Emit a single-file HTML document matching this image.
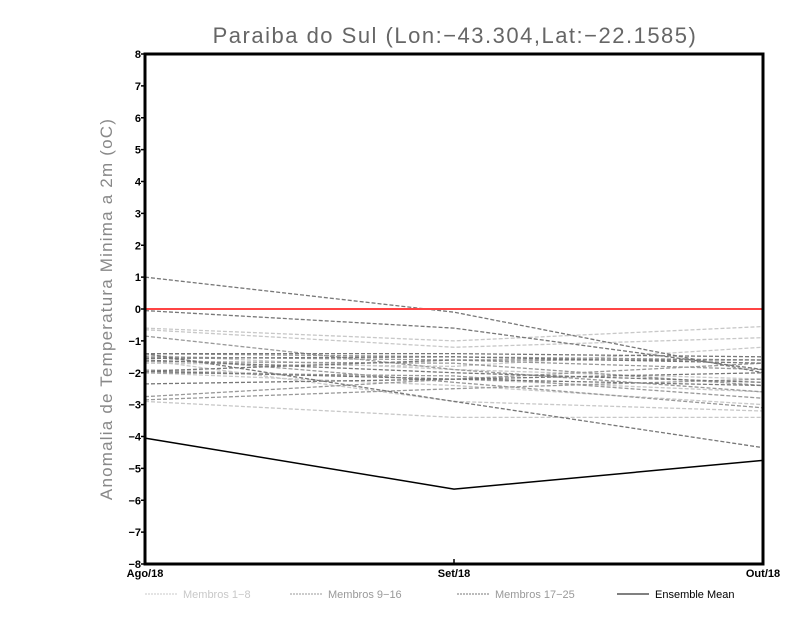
<!DOCTYPE html>
<html><head><meta charset="utf-8"><style>
body{margin:0;background:#fff;width:800px;height:618px;overflow:hidden}
svg text{font-family:"Liberation Sans",sans-serif}
</style></head><body>
<svg id="chart" width="800" height="618" xmlns="http://www.w3.org/2000/svg">
<text x="455" y="43" text-anchor="middle" font-size="22" fill="#666" letter-spacing="1.5">Paraiba do Sul (Lon:−43.304,Lat:−22.1585)</text>
<text transform="translate(112,309) rotate(-90)" text-anchor="middle" font-size="17" fill="#888" letter-spacing="1.2">Anomalia de Temperatura Minima a 2m (oC)</text>
<g id="plot"></g>
</svg>
<script>
const categories=["Ago/18","Set/18","Out/18"];
const yTicks=[8,7,6,5,4,3,2,1,0,-1,-2,-3,-4,-5,-6,-7,-8];
const members1to8=[[-0.6,-1.0,-0.55],[-0.65,-1.2,-0.9],[-1.7,-1.8,-1.2],[-1.9,-2.2,-2.6],[-2.9,-3.4,-3.4],[-2.0,-2.4,-3.0],[-1.45,-1.9,-2.2],[-1.6,-2.9,-3.2]];
const members9to16=[[-0.85,-1.9,-2.6],[-1.4,-1.5,-1.6],[-1.5,-1.6,-1.9],[-1.65,-1.7,-2.4],[-2.0,-2.1,-2.8],[-2.75,-2.2,-1.7],[-2.85,-2.5,-2.2],[-1.5,-2.3,-3.1]];
const members17to25=[[1.0,-0.1,-2.0],[-0.05,-0.6,-1.9],[-1.4,-1.4,-1.5],[-1.55,-1.5,-1.7],[-1.6,-2.0,-2.3],[-1.95,-2.2,-2.4],[-2.35,-2.2,-2.0],[-1.4,-2.9,-4.35],[-1.95,-1.6,-1.6]];
const ensembleMean=[-4.05,-5.65,-4.75];
const zeroLine=0;
const L=145,R=763,T=54,B=564;
const xS=i=>L+i*(R-L)/(categories.length-1);
const yS=v=>T+(8-v)*(B-T)/16;
const NS="http://www.w3.org/2000/svg";
const g=document.getElementById('plot');
function mk(tag,attrs,parent){const e=document.createElementNS(NS,tag);for(const k in attrs)e.setAttribute(k,attrs[k]);(parent||g).appendChild(e);return e;}
function series(arr){return arr.map((v,i)=>xS(i)+","+yS(v)).join(" ");}
members1to8.forEach((s,k)=>{const p=mk('polyline',{points:series(s),fill:'none',stroke:'#c8c8c8','stroke-width':1.3,'stroke-dasharray':'4,2'});

});
members9to16.forEach((s,k)=>{const p=mk('polyline',{points:series(s),fill:'none',stroke:'#999','stroke-width':1.3,'stroke-dasharray':'4,2'});

});
members17to25.forEach((s,k)=>{const p=mk('polyline',{points:series(s),fill:'none',stroke:'#777','stroke-width':1.3,'stroke-dasharray':'4,2'});

});
const zl=mk('line',{x1:L,x2:R,y1:yS(zeroLine),y2:yS(zeroLine),stroke:'#f44','stroke-width':2});


const em=mk('polyline',{points:series(ensembleMean),fill:'none',stroke:'#000','stroke-width':1.5});


const fr=mk('rect',{x:L,y:T,width:R-L,height:B-T,fill:'none',stroke:'#000','stroke-width':3});


yTicks.forEach(v=>{const y=yS(v);mk('line',{x1:L-4,x2:L,y1:y,y2:y,stroke:'#000','stroke-width':1.5});
const t=mk('text',{x:L-4,y:y+4,'text-anchor':'end','font-size':11,'font-weight':'bold',fill:'#000'});t.textContent=(v<0?'−'+(-v):v);

});
categories.forEach((c,i)=>{const x=xS(i);mk('line',{x1:x,x2:x,y1:B,y2:B-5,stroke:'#000','stroke-width':1.5});
const t=mk('text',{x:x,y:B+13,'text-anchor':'middle','font-size':11,'font-weight':'bold',fill:'#000'});t.textContent=c;

});
const legend=[["Membros 1−8","#c8c8c8",'2,1',145],["Membros 9−16","#999",'2,1',290],["Membros 17−25","#777",'2,1',457],["Ensemble Mean","#000",'',617]];
legend.forEach(l=>{const lg=mk('g',{});


mk('line',{x1:l[3],x2:l[3]+32,y1:594,y2:594,stroke:l[1],'stroke-width':1,'stroke-dasharray':l[2]},lg);
const t=mk('text',{x:l[3]+38,y:598,'font-size':11,fill:l[1]==='#000'?'#000':(l[1]==='#c8c8c8'?'#c8c8c8':'#999')},lg);t.textContent=l[0];});
</script>
</body></html>
